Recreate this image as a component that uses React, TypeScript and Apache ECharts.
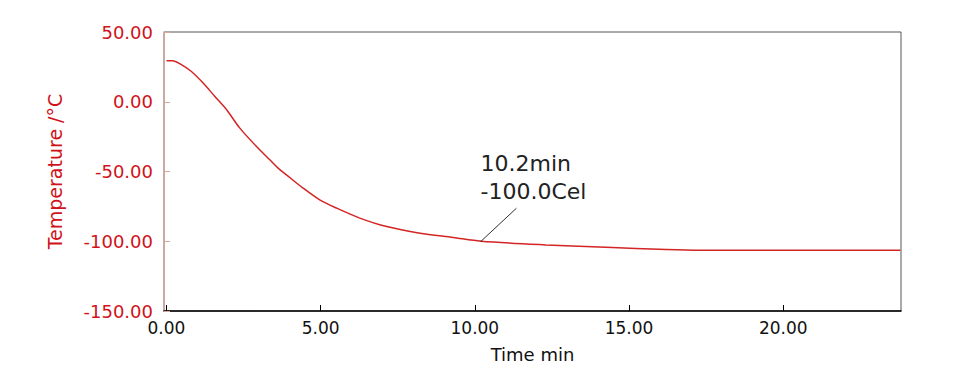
import React, { useEffect, useRef } from "react";
import * as echarts from "echarts";

const timeMin = [0, 0.2, 0.43, 0.81, 1.19, 1.57, 1.95, 2.38, 2.92, 3.35, 3.62, 3.89, 4.43, 4.97, 5.52, 6.27, 7.14, 8.22, 9.3, 10.2, 12.3, 14.46, 15.97, 17.26, 23.8];
const tempC = [29.4, 29.4, 27.3, 21.7, 13.4, 3.8, -5.7, -18.9, -32.1, -41.6, -47.6, -52.4, -61.9, -70.3, -76.3, -83.4, -89.5, -94.2, -97.3, -100, -102.6, -104.5, -105.7, -106.4, -106.4];
const xTicks = [0, 5, 10, 15, 20];
const markerPoint = [10.2, -100.0];
const markerLabelEnd = [11.35, -76.3];

const FONT = "'DejaVu Sans', 'Noto Sans', sans-serif";
const RED = "#d0121b";

export default function App() {
  const ref = useRef<HTMLDivElement>(null);
  useEffect(() => {
    if (!ref.current) return;
    const chart = echarts.init(ref.current, undefined, { renderer: "svg" });
    chart.setOption({
      animation: false,
      backgroundColor: "#fff",
      grid: {
        left: 164,
        right: 70,
        top: 32,
        bottom: 76,
        show: true,
        borderColor: "#555",
        borderWidth: 1,
      },
      xAxis: {
        type: "value",
        min: -0.08,
        max: 23.82,
        name: "Time min",
        nameLocation: "middle",
        nameGap: 34,
        nameTextStyle: { color: "#111", fontSize: 18, fontFamily: FONT },
        axisLine: { show: true, onZero: false, lineStyle: { color: "#000", width: 1.5 } },
        axisTick: { show: true, inside: true, length: 6, customValues: xTicks, lineStyle: { color: "#000" } },
        axisLabel: {
          customValues: xTicks,
          formatter: (v: number) => v.toFixed(2),
          color: "#111",
          fontSize: 17,
          fontFamily: FONT,
          margin: 8,
        },
        splitLine: { show: false },
      },
      yAxis: {
        type: "value",
        min: -150,
        max: 50,
        interval: 50,
        name: "Temperature /°C",
        nameLocation: "middle",
        nameGap: 100,
        nameTextStyle: { color: RED, fontSize: 19, fontFamily: FONT },
        axisLine: { show: true, onZero: false, lineStyle: { color: "#d9a8a2", width: 1.5 } },
        axisTick: { show: true, inside: true, length: 6, lineStyle: { color: "#d9a8a2" } },
        axisLabel: {
          formatter: (v: number) => v.toFixed(2),
          color: RED,
          fontSize: 18,
          fontFamily: FONT,
          margin: 11,
        },
        splitLine: { show: false },
      },
      series: [
        {
          type: "line",
          data: timeMin.map((t, i) => [t, tempC[i]]),
          smooth: 0.3,
          showSymbol: false,
          lineStyle: { color: "#d42424", width: 1.5 },
          markLine: {
            silent: true,
            symbol: "none",
            lineStyle: { color: "#333", width: 1, type: "solid" },
            label: { show: false },
            data: [[{ coord: markerPoint }, { coord: markerLabelEnd }]],
          },
          markPoint: {
            symbol: "circle",
            symbolSize: 1,
            itemStyle: { color: "#333" },
            label: {
              show: true,
              position: [0, -91],
              align: "left",
              verticalAlign: "top",
              formatter: `${markerPoint[0].toFixed(1)}min\n${markerPoint[1].toFixed(1)}Cel`,
              color: "#222",
              fontSize: 22,
              lineHeight: 28,
              fontFamily: FONT,
            },
            data: [{ coord: markerPoint }],
          },
        },
      ],
    });
    return () => chart.dispose();
  }, []);
  return (
    <div
      ref={ref}
      style={{ position: "absolute", left: 0, top: 0, width: 971, height: 387 }}
    />
  );
}
